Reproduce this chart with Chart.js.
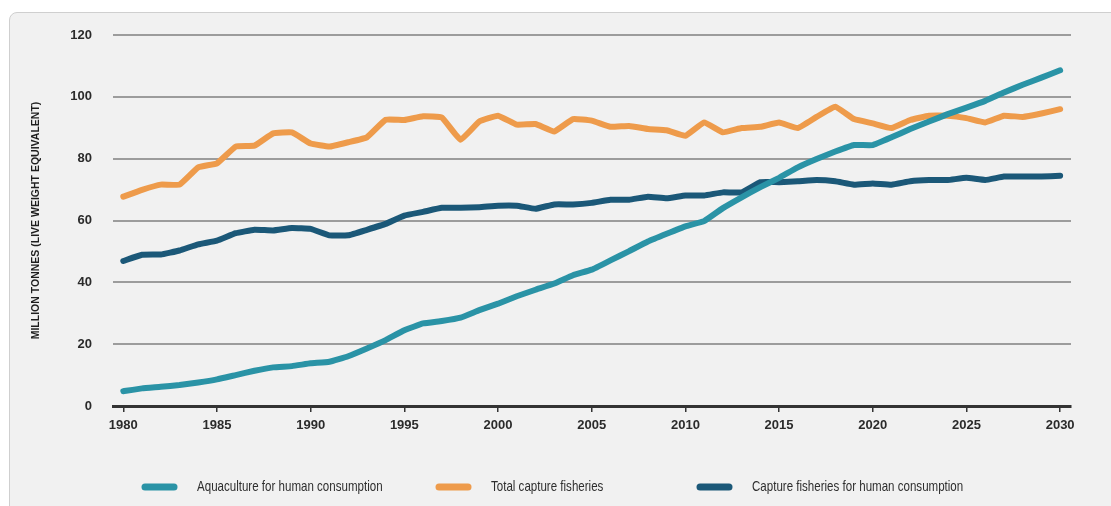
<!DOCTYPE html>
<html>
<head>
<meta charset="utf-8">
<script src="https://cdn.jsdelivr.net/npm/chart.js@4.4.1/dist/chart.umd.min.js"></script>
<style>
  html, body { margin: 0; padding: 0; background: #fff; }
  #frame {
    position: absolute; left: 9px; top: 12px; width: 1120px; height: 510px;
    background: #f1f1f1; border: 1px solid #cfcfcf; border-radius: 8px;
  }
  #wrap { position: absolute; left: 0; top: 0; width: 1111px; height: 506px; }
</style>
</head>
<body>
<div id="frame"></div>
<div id="wrap"><canvas id="fishChart" width="1111" height="506"></canvas></div>
<script>
const FONT = "'Liberation Sans', Arial, sans-serif";

// years 1980 - 2030
const years = [];
for (let y = 1980; y <= 2030; y++) years.push(y);

const tickYears = [1980, 1985, 1990, 1995, 2000, 2005, 2010, 2015, 2020, 2025, 2030];
const yTicks = [0, 20, 40, 60, 80, 100, 120];

// Aquaculture for human consumption
const aquaculture = [
  4.8, 5.7, 6.2, 6.8, 7.6, 8.6, 10.0, 11.4, 12.5, 12.9,
  13.8, 14.3, 16.1, 18.6, 21.3, 24.5, 26.7, 27.5, 28.6, 31.0,
  33.1, 35.5, 37.6, 39.6, 42.3, 44.1, 47.1, 50.1, 53.2, 55.7,
  58.1, 59.8, 64.0, 67.5, 70.8, 73.8, 77.2, 79.9, 82.3, 84.4,
  84.4, 86.9, 89.6, 92.0, 94.4, 96.5, 98.7, 101.4, 103.9, 106.2,
  108.6
];

// Total capture fisheries
const totalCapture = [
  67.7, 69.9, 71.6, 71.6, 77.2, 78.5, 83.9, 84.2, 88.2, 88.5,
  84.9, 83.9, 85.3, 86.9, 92.6, 92.5, 93.7, 93.3, 86.1, 92.0,
  93.9, 91.0, 91.2, 88.8, 92.8, 92.3, 90.3, 90.6, 89.6, 89.2,
  87.4, 91.7, 88.5, 89.9, 90.3, 91.7, 89.9, 93.5, 96.8, 92.8,
  91.4, 89.9, 92.5, 93.9, 93.9, 93.1, 91.7, 93.9, 93.5, 94.6,
  96.0
];

// Capture fisheries for human consumption
const captureHuman = [
  46.9, 48.9, 49.0, 50.3, 52.3, 53.5, 55.9, 57.0, 56.8, 57.6,
  57.3, 55.2, 55.2, 57.0, 58.9, 61.6, 62.8, 64.1, 64.1, 64.3,
  64.8, 64.8, 63.8, 65.2, 65.2, 65.7, 66.7, 66.7, 67.7, 67.2,
  68.1, 68.1, 69.1, 69.1, 72.4, 72.4, 72.7, 73.1, 72.7, 71.6,
  72.0, 71.6, 72.7, 73.1, 73.1, 73.8, 73.1, 74.2, 74.2, 74.2,
  74.5
];

const toPoints = (vals) => vals.map((v, i) => ({ x: years[i], y: v }));

const series = [
  { label: 'Aquaculture for human consumption', values: aquaculture, color: '#2a93a6', legendX: 142 },
  { label: 'Total capture fisheries', values: totalCapture, color: '#ee9b4b', legendX: 436 },
  { label: 'Capture fisheries for human consumption', values: captureHuman, color: '#1b5878', legendX: 697 }
];

// legend drawn below the axis, condensed text like the original
const bottomLegend = {
  id: 'bottomLegend',
  afterDraw(chart) {
    const c = chart.ctx;
    const y = 487;
    c.save();
    chart.data.datasets.forEach((ds, i) => {
      const x = series[i].legendX;
      c.strokeStyle = ds.borderColor;
      c.lineWidth = 7;
      c.lineCap = 'round';
      c.beginPath();
      c.moveTo(x + 3, y);
      c.lineTo(x + 32, y);
      c.stroke();
      c.save();
      c.translate(x + 55, y);
      c.scale(0.77, 1);
      c.fillStyle = '#2e2e2e';
      c.font = '15px ' + FONT;
      c.textBaseline = 'middle';
      c.fillText(ds.label, 0, 0);
      c.restore();
    });
    c.restore();
  }
};

const data = {
  datasets: series.map(s => ({
    label: s.label,
    data: toPoints(s.values),
    borderColor: s.color,
    backgroundColor: s.color,
    borderWidth: 6,
    borderCapStyle: 'round',
    borderJoinStyle: 'round',
    pointRadius: 0,
    tension: 0.1,
    fill: false
  }))
};

const config = {
  type: 'line',
  data: data,
  options: {
    responsive: false,
    animation: false,
    layout: { padding: { top: 35, right: 40, bottom: 0, left: 0 } },
    plugins: {
      legend: { display: false },
      tooltip: { enabled: false }
    },
    scales: {
      x: {
        type: 'linear',
        min: 1979.45,
        max: 2030.58,
        afterBuildTicks: (scale) => { scale.ticks = tickYears.map(v => ({ value: v })); },
        afterFit: (scale) => { scale.height = 100; },
        grid: {
          drawOnChartArea: false,
          drawTicks: true,
          tickLength: 6,
          tickColor: '#333',
          lineWidth: 1.5
        },
        border: { display: true, color: '#333', width: 3 },
        ticks: {
          padding: 6,
          color: '#2b2b2b',
          font: { family: FONT, size: 13, weight: 'bold' },
          callback: (v) => String(v)
        }
      },
      y: {
        min: 0,
        max: 120,
        afterBuildTicks: (scale) => { scale.ticks = yTicks.map(v => ({ value: v })); },
        afterFit: (scale) => { scale.width = 113; },
        grid: { color: '#9c9c9c', lineWidth: 2, drawTicks: false },
        border: { display: false },
        ticks: {
          padding: 21,
          color: '#2b2b2b',
          font: { family: FONT, size: 13, weight: 'bold' }
        },
        title: {
          display: true,
          text: 'MILLION TONNES (LIVE WEIGHT EQUIVALENT)',
          color: '#1e1e1e',
          font: { family: FONT, size: 10.5, weight: 'bold' },
          padding: { top: 30 }
        }
      }
    }
  },
  plugins: [bottomLegend]
};

new Chart(document.getElementById('fishChart').getContext('2d'), config);
</script>
</body>
</html>
